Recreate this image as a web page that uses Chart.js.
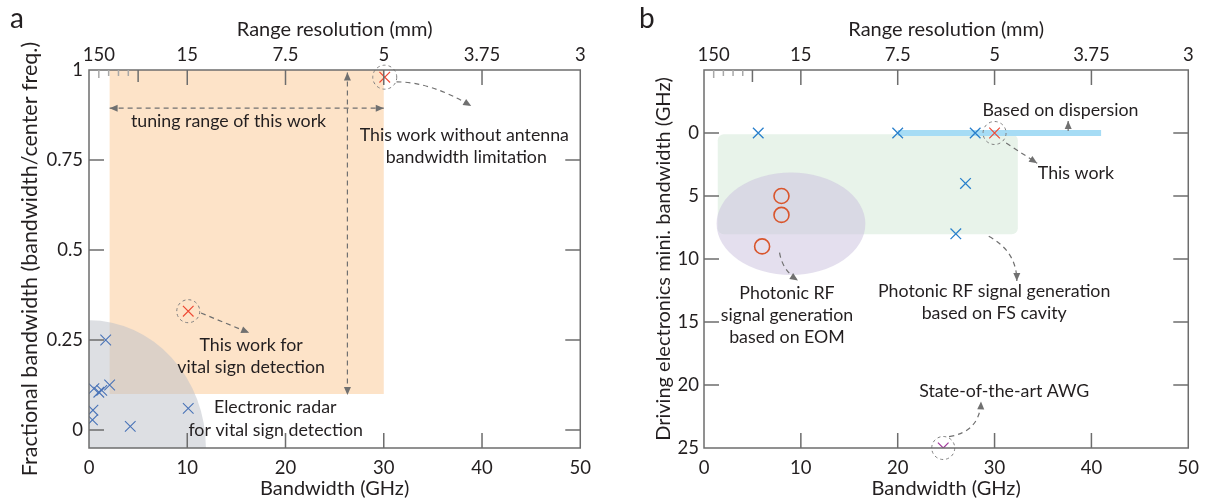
<!DOCTYPE html>
<html>
<head>
<meta charset="utf-8">
<script src="https://cdn.jsdelivr.net/npm/chart.js@4/dist/chart.umd.min.js"></script>
<style>
  body { margin: 0; background: #fff; }
  canvas { position: absolute; top: 0; }
  #chartA { left: 0; }
  #chartB { left: 615px; }
</style>
</head>
<body>
<canvas id="chartA" width="600" height="501"></canvas>
<canvas id="chartB" width="593" height="501"></canvas>
<script>
// shared axes
const bwTicks = [0, 10, 20, 30, 40, 50];
const rangeTickBW = [1, 2, 3, 4, 5, 10, 20, 30, 40, 50];
const rangeTickLabels = ['150', '', '', '', '', '15', '7.5', '5', '3.75', '3'];

// panel a
const fracTicks = [0, 0.25, 0.5, 0.75, 1];
const fracTickLabels = ['0', '0.25', '0.5', '0.75', '1'];
const radarBW = [1.7, 0.5, 1.0, 1.3, 2.1, 0.4, 0.35, 4.2, 10.1];
const radarFrac = [0.25, 0.115, 0.105, 0.11, 0.125, 0.055, 0.028, 0.01, 0.06];
const thisWorkBW = [10.1, 30.1];
const thisWorkFrac = [0.33, 0.98];

// panel b
const minBwTicks = [0, 5, 10, 15, 20, 25];
const fsBW = [5.6, 20, 28, 27, 26];
const fsMin = [0, 0, 0, 4, 8];
const eomBW = [8, 8, 6];
const eomMin = [5, 6.5, 9];
const dispBW = [20, 41];
const dispMin = [0, 0];
const thisWorkB_BW = [30];
const thisWorkB_Min = [0];
const awgBW = [24.7];
const awgMin = [25];

const pts = (xs, ys) => xs.map((x, i) => ({x: x, y: ys[i]}));

const FONT = 'Lato';
const TXT = '#231f20';
const AXIS = '#6d6d6d';
const tickFont = {family: FONT, size: 18.5};
const titleFont = {family: FONT, size: 20};

function arrowHead(ctx, fx, fy, tx, ty) {
  const a = Math.atan2(ty - fy, tx - fx);
  ctx.setLineDash([]);
  ctx.beginPath();
  ctx.moveTo(tx, ty);
  ctx.lineTo(tx - 8 * Math.cos(a) + 3.5 * Math.sin(a), ty - 8 * Math.sin(a) - 3.5 * Math.cos(a));
  ctx.lineTo(tx - 8 * Math.cos(a) - 3.5 * Math.sin(a), ty - 8 * Math.sin(a) + 3.5 * Math.cos(a));
  ctx.closePath();
  ctx.fill();
}

// p = list of pixel points, 2 = straight, 3 = quadratic
function arrow(ctx, p, both, dash) {
  ctx.save();
  ctx.strokeStyle = '#707070';
  ctx.fillStyle = '#707070';
  ctx.lineWidth = 1.2;
  ctx.setLineDash(dash === false ? [] : [5, 4]);
  ctx.beginPath();
  ctx.moveTo(p[0][0], p[0][1]);
  if (p.length === 3) ctx.quadraticCurveTo(p[1][0], p[1][1], p[2][0], p[2][1]);
  else ctx.lineTo(p[1][0], p[1][1]);
  ctx.stroke();
  const n = p.length;
  arrowHead(ctx, p[n - 2][0], p[n - 2][1], p[n - 1][0], p[n - 1][1]);
  if (both) arrowHead(ctx, p[1][0], p[1][1], p[0][0], p[0][1]);
  ctx.restore();
}

function dashCircle(ctx, x, y, r) {
  ctx.save();
  ctx.strokeStyle = '#808080';
  ctx.lineWidth = 1;
  ctx.setLineDash([3, 3]);
  ctx.beginPath();
  ctx.arc(x, y, r, 0, Math.PI * 2);
  ctx.stroke();
  ctx.restore();
}

function label(ctx, text, x, y) {
  ctx.save();
  ctx.font = '17.8px ' + FONT;
  ctx.fillStyle = TXT;
  ctx.textAlign = 'center';
  ctx.textBaseline = 'middle';
  ctx.fillText(text, x, y);
  ctx.restore();
}

// frame + inward ticks
function framePlugin(yTicksIn, letter, lx) {
  return {
    id: 'frame' + letter,
    afterDatasetsDraw(chart) {
      const {ctx, chartArea: a, scales: {x, y}} = chart;
      ctx.save();
      ctx.strokeStyle = AXIS;
      ctx.lineWidth = 1.5;
      ctx.strokeRect(a.left, a.top, a.right - a.left, a.bottom - a.top);
      ctx.beginPath();
      bwTicks.slice(1, -1).forEach(v => {
        const px = x.getPixelForValue(v);
        ctx.moveTo(px, a.bottom); ctx.lineTo(px, a.bottom - 15);
      });
      yTicksIn.forEach(v => {
        const py = y.getPixelForValue(v);
        ctx.moveTo(a.left, py); ctx.lineTo(a.left + 15, py);
        ctx.moveTo(a.right, py); ctx.lineTo(a.right - 15, py);
      });
      ctx.stroke();
      rangeTickBW.forEach(v => {
        const px = x.getPixelForValue(v);
        let len = 15, col = AXIS;
        if (v < 5) { len = v === 1 ? 8 : 6; col = '#a8a8a8'; }
        else if (v === 5) { len = 12; }
        if (v === 50) return;
        ctx.strokeStyle = col;
        ctx.beginPath();
        ctx.moveTo(px, a.top); ctx.lineTo(px, a.top + len);
        ctx.stroke();
      });
      ctx.font = '28px ' + FONT;
      ctx.fillStyle = TXT;
      ctx.textBaseline = 'middle';
      ctx.fillText(letter, lx, 19);
      ctx.restore();
    }
  };
}

function baseScales(yOpts, yTitle, yTitleSize, yTitlePad) {
  return {
    x: {
      type: 'linear', position: 'bottom', min: 0, max: 50,
      afterBuildTicks: s => { s.ticks = bwTicks.map(v => ({value: v})); },
      afterFit: s => { s.height = 53; },
      grid: {display: false, drawTicks: false},
      border: {display: false},
      ticks: {font: tickFont, color: TXT, padding: 9, maxRotation: 0, autoSkip: false},
      title: {display: true, text: 'Bandwidth (GHz)', font: titleFont, color: TXT, padding: {top: 0, bottom: 0}}
    },
    x2: {
      type: 'linear', axis: 'x', position: 'top', min: 0, max: 50,
      afterBuildTicks: s => { s.ticks = rangeTickBW.map(v => ({value: v})); },
      afterFit: s => { s.height = 70; },
      grid: {display: false, drawTicks: false},
      border: {display: false},
      ticks: {font: tickFont, color: TXT, padding: 3.5, maxRotation: 0, autoSkip: false,
        callback: (v, i) => rangeTickLabels[i]},
      title: {display: true, text: 'Range resolution (mm)', font: titleFont, color: TXT, padding: {top: 18, bottom: 0}}
    },
    y: Object.assign({
      type: 'linear', position: 'left',
      afterFit: s => { s.width = 89; },
      grid: {display: false, drawTicks: false},
      border: {display: false},
      title: {display: true, text: yTitle, font: {family: FONT, size: yTitleSize}, color: TXT,
        padding: {top: yTitlePad, bottom: 0}}
    }, yOpts)
  };
}

// ---------- panel a ----------
const regionsA = {
  id: 'regionsA',
  beforeDatasetsDraw(chart) {
    const {ctx, scales: {x, y}} = chart;
    ctx.save();
    const x0 = x.getPixelForValue(2.1), x1 = x.getPixelForValue(30);
    const y0 = y.getPixelForValue(1), y1 = y.getPixelForValue(0.1);
    ctx.fillStyle = '#fde3c8';
    ctx.fillRect(x0, y0, x1 - x0, y1 - y0);
    const cx = x.getPixelForValue(0), cy = y.getPixelForValue(-0.05);
    const rx = x.getPixelForValue(11.9) - cx, ry = cy - y.getPixelForValue(0.305);
    ctx.fillStyle = 'rgba(188,191,200,0.5)';
    ctx.beginPath();
    ctx.moveTo(cx, cy);
    ctx.ellipse(cx, cy, rx, ry, 0, -Math.PI / 2, 0);
    ctx.closePath();
    ctx.fill();
    ctx.restore();
  },
  afterDatasetsDraw(chart) {
    const {ctx, scales: {x, y}} = chart;
    const P = (a, b) => [x.getPixelForValue(a), y.getPixelForValue(b)];
    arrow(ctx, [P(2.1, 0.894), P(30, 0.894)], true);
    arrow(ctx, [P(26.3, 0.993), P(26.3, 0.097)], true);
    dashCircle(ctx, ...P(thisWorkBW[1], thisWorkFrac[1]), 12);
    dashCircle(ctx, ...P(thisWorkBW[0], thisWorkFrac[0]), 11.5);
    arrow(ctx, [P(31.3, 0.967), P(34.8, 0.967), P(38.9, 0.9)]);
    arrow(ctx, [P(11.4, 0.325), P(16.3, 0.27)]);
    label(ctx, 'tuning range of this work', ...P(14.2, 0.858));
    label(ctx, 'This work without antenna', ...P(38.2, 0.819));
    label(ctx, 'bandwidth limitation', ...P(38.4, 0.758));
    label(ctx, 'This work for', ...P(16.5, 0.236));
    label(ctx, 'vital sign detection', ...P(16.5, 0.175));
    label(ctx, 'Electronic radar', ...P(18.95, 0.064));
    label(ctx, 'for vital sign detection', ...P(19.0, 0.0));
  }
};

new Chart(document.getElementById('chartA'), {
  type: 'scatter',
  data: {
    datasets: [
      {data: pts(thisWorkBW, thisWorkFrac), pointStyle: 'crossRot', pointRadius: 7.5,
        borderColor: '#ee4a35', borderWidth: 1.2},
      {data: pts(radarBW, radarFrac), pointStyle: 'crossRot', pointRadius: 7.5,
        borderColor: '#4a74b8', borderWidth: 1.1}
    ]
  },
  options: {
    responsive: false,
    animation: false,
    events: [],
    layout: {padding: {left: 0, right: 18, top: 0, bottom: 0}},
    scales: baseScales({
      min: -0.05, max: 1,
      afterBuildTicks: s => { s.ticks = fracTicks.map(v => ({value: v})); },
      ticks: {font: tickFont, color: TXT, padding: 6, autoSkip: false,
        callback: (v, i) => fracTickLabels[i]}
    }, 'Fractional bandwidth (bandwidth/center freq.)', 21.5, 17),
    plugins: {legend: {display: false}, tooltip: {enabled: false}}
  },
  plugins: [regionsA, framePlugin([0, 0.25, 0.5, 0.75], 'a', 10)]
});

// ---------- panel b ----------
const regionsB = {
  id: 'regionsB',
  beforeDatasetsDraw(chart) {
    const {ctx, scales: {x, y}} = chart;
    ctx.save();
    const x0 = x.getPixelForValue(1.42), x1 = x.getPixelForValue(32.4);
    const y0 = y.getPixelForValue(0.1), y1 = y.getPixelForValue(8.04);
    ctx.fillStyle = '#e8f3ea';
    ctx.beginPath();
    ctx.roundRect(x0, y0, x1 - x0, y1 - y0, 6);
    ctx.fill();
    const cx = x.getPixelForValue(8.98), cy = y.getPixelForValue(7.2);
    const rx = x.getPixelForValue(8.98 + 7.68) - cx, ry = y.getPixelForValue(7.2 + 4.06) - cy;
    ctx.fillStyle = 'rgba(201,191,221,0.5)';
    ctx.beginPath();
    ctx.ellipse(cx, cy, rx, ry, 0, 0, Math.PI * 2);
    ctx.fill();
    ctx.restore();
  },
  afterDatasetsDraw(chart) {
    const {ctx, scales: {x, y}} = chart;
    const P = (a, b) => [x.getPixelForValue(a), y.getPixelForValue(b)];
    dashCircle(ctx, ...P(thisWorkB_BW[0], thisWorkB_Min[0]), 11.5);
    dashCircle(ctx, ...P(awgBW[0], awgMin[0]), 11.5);
    arrow(ctx, [P(37.6, -0.16), P(37.6, -0.95)], false, false);
    arrow(ctx, [P(31.2, 0.8), P(34.4, 2.4)]);
    arrow(ctx, [P(7.8, 9.5), P(8.1, 10.9), P(9.7, 11.7)]);
    arrow(ctx, [P(29.4, 8.2), P(32.3, 9.4), P(32.3, 11.75)]);
    arrow(ctx, [P(25.3, 24.1), P(28.5, 23.7), P(28.6, 21.3)]);
    label(ctx, 'Based on dispersion', ...P(36.8, -1.83));
    label(ctx, 'This work', ...P(38.4, 3.17));
    label(ctx, 'Photonic RF', ...P(8.57, 12.7));
    label(ctx, 'signal generation', ...P(8.57, 14.44));
    label(ctx, 'based on EOM', ...P(8.57, 16.2));
    label(ctx, 'Photonic RF signal generation', ...P(29.96, 12.6));
    label(ctx, 'based on FS cavity', ...P(29.96, 14.3));
    label(ctx, 'State-of-the-art AWG', ...P(31.0, 20.5));
  }
};

new Chart(document.getElementById('chartB'), {
  type: 'scatter',
  data: {
    datasets: [
      {data: pts(thisWorkB_BW, thisWorkB_Min), pointStyle: 'crossRot', pointRadius: 7.5,
        borderColor: '#ee4a35', borderWidth: 1.2},
      {data: pts(awgBW, awgMin), pointStyle: 'crossRot', pointRadius: 7.5,
        borderColor: '#a0379b', borderWidth: 1.2},
      {data: pts(fsBW, fsMin), pointStyle: 'crossRot', pointRadius: 7.5,
        borderColor: '#2a80cc', borderWidth: 1.3},
      {data: pts(eomBW, eomMin), pointStyle: 'circle', pointRadius: 7.5,
        borderColor: '#d9552c', backgroundColor: 'rgba(0,0,0,0)', borderWidth: 1.6},
      {type: 'line', data: pts(dispBW, dispMin), showLine: true, pointRadius: 0,
        borderColor: '#a6dcf5', borderWidth: 6, borderCapStyle: 'butt'}
    ]
  },
  options: {
    responsive: false,
    animation: false,
    events: [],
    layout: {padding: {left: 0, right: 12, top: 0, bottom: 0}},
    scales: baseScales({
      min: -5, max: 25, reverse: true,
      afterBuildTicks: s => { s.ticks = minBwTicks.map(v => ({value: v})); },
      ticks: {font: tickFont, color: TXT, padding: 5, autoSkip: false}
    }, 'Driving electronics mini. bandwidth (GHz)', 20, 37),
    plugins: {legend: {display: false}, tooltip: {enabled: false}}
  },
  plugins: [regionsB, framePlugin([0, 5, 10, 15, 20], 'b', 24)]
});
</script>
</body>
</html>
